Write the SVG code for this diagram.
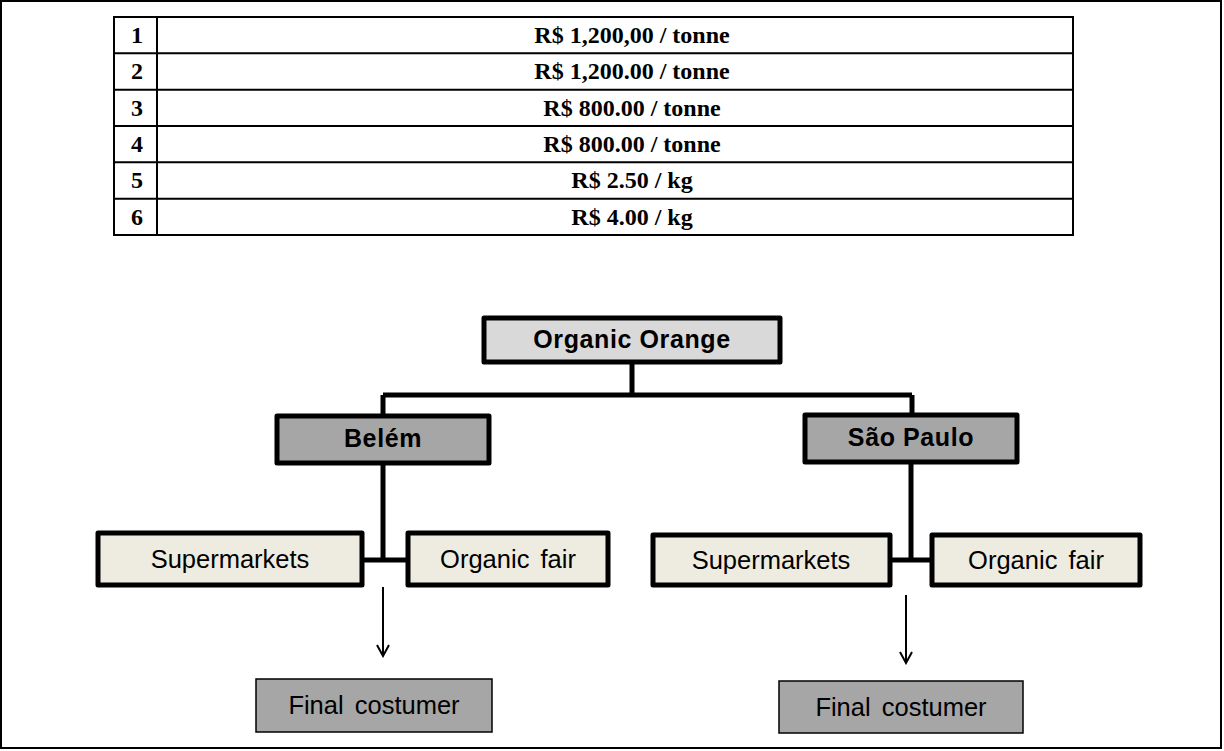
<svg xmlns="http://www.w3.org/2000/svg" width="1224" height="751" viewBox="0 0 1224 751">
<defs>
<style>
.tbl{fill:none;stroke:#000;stroke-width:2}
.tt{font-family:"Liberation Serif","Times New Roman",serif;font-weight:bold;font-size:24px;fill:#000;text-anchor:middle}
.thick{stroke:#000;stroke-width:5;stroke-linejoin:round}
.lbl{font-family:"Liberation Sans",Arial,sans-serif;font-size:25.5px;fill:#000;text-anchor:middle}
.blbl{font-family:"Liberation Sans",Arial,sans-serif;font-size:25px;font-weight:bold;fill:#000;text-anchor:middle;letter-spacing:0.6px}
.conn{fill:none;stroke:#000;stroke-width:5}
.arr{fill:none;stroke:#000;stroke-width:2}
</style>
<marker id="ah" markerWidth="14" markerHeight="14" refX="12" refY="7" orient="auto" markerUnits="userSpaceOnUse" viewBox="0 0 14 14">
<path d="M1 1 L12 7 L1 13" fill="none" stroke="#000" stroke-width="2"/>
</marker>
</defs>
<rect x="1" y="1" width="1220" height="747" fill="#fff" stroke="#000" stroke-width="2"/>
<g id="table">
<rect class="tbl" x="114" y="17" width="959" height="218"/>
<line class="tbl" x1="157" y1="17" x2="157" y2="235"/>
<line class="tbl" x1="114" y1="53.3" x2="1073" y2="53.3"/>
<line class="tbl" x1="114" y1="89.7" x2="1073" y2="89.7"/>
<line class="tbl" x1="114" y1="126" x2="1073" y2="126"/>
<line class="tbl" x1="114" y1="162.3" x2="1073" y2="162.3"/>
<line class="tbl" x1="114" y1="198.7" x2="1073" y2="198.7"/>
<text class="tt" x="137" y="43">1</text>
<text class="tt" x="137" y="79">2</text>
<text class="tt" x="137" y="116">3</text>
<text class="tt" x="137" y="152">4</text>
<text class="tt" x="137" y="188">5</text>
<text class="tt" x="137" y="225">6</text>
<text class="tt" x="632" y="43">R$ 1,200,00 / tonne</text>
<text class="tt" x="632" y="79">R$ 1,200.00 / tonne</text>
<text class="tt" x="632" y="116">R$ 800.00 / tonne</text>
<text class="tt" x="632" y="152">R$ 800.00 / tonne</text>
<text class="tt" x="632" y="188">R$ 2.50 / kg</text>
<text class="tt" x="632" y="225">R$ 4.00 / kg</text>
</g>
<g id="connectors">
<path class="conn" d="M632 362 V395 M383 395 H912 M383 395 V416 M912 395 V415"/>
<path class="conn" d="M383 463 V560 M362 560 H408"/>
<path class="conn" d="M911 462 V560 M890 560 H932"/>
<line class="arr" x1="383" y1="587" x2="383" y2="656" marker-end="url(#ah)"/>
<line class="arr" x1="906" y1="595" x2="906" y2="663" marker-end="url(#ah)"/>
</g>
<g id="organic-orange">
<rect class="thick" x="484" y="318" width="296" height="44" fill="#d9d9d9"/>
<text class="blbl" x="632" y="348">Organic Orange</text>
</g>
<g id="belem">
<rect class="thick" x="277" y="416" width="212" height="47" fill="#a6a6a6"/>
<text class="blbl" x="383" y="447">Belém</text>
</g>
<g id="sao-paulo">
<rect class="thick" x="805" y="415" width="212" height="47" fill="#a6a6a6"/>
<text class="blbl" x="911" y="446">São Paulo</text>
</g>
<g id="supermarkets-belem">
<rect class="thick" x="98" y="533" width="264" height="52" fill="#eeece1"/>
<text class="lbl" x="230" y="568">Supermarkets</text>
</g>
<g id="organic-fair-belem">
<rect class="thick" x="408" y="533" width="200" height="52" fill="#eeece1"/>
<text class="lbl" x="508" y="568" word-spacing="4">Organic fair</text>
</g>
<g id="supermarkets-sp">
<rect class="thick" x="653" y="535" width="237" height="50" fill="#eeece1"/>
<text class="lbl" x="771" y="569">Supermarkets</text>
</g>
<g id="organic-fair-sp">
<rect class="thick" x="932" y="535" width="208" height="50" fill="#eeece1"/>
<text class="lbl" x="1036" y="569" word-spacing="4">Organic fair</text>
</g>
<g id="final-belem">
<rect x="256" y="679" width="236" height="53" fill="#a6a6a6" stroke="#000" stroke-width="1.5"/>
<text class="lbl" x="374" y="714" word-spacing="4">Final costumer</text>
</g>
<g id="final-sp">
<rect x="779" y="681" width="244" height="52" fill="#a6a6a6" stroke="#000" stroke-width="1.5"/>
<text class="lbl" x="901" y="716" word-spacing="4">Final costumer</text>
</g>
</svg>
